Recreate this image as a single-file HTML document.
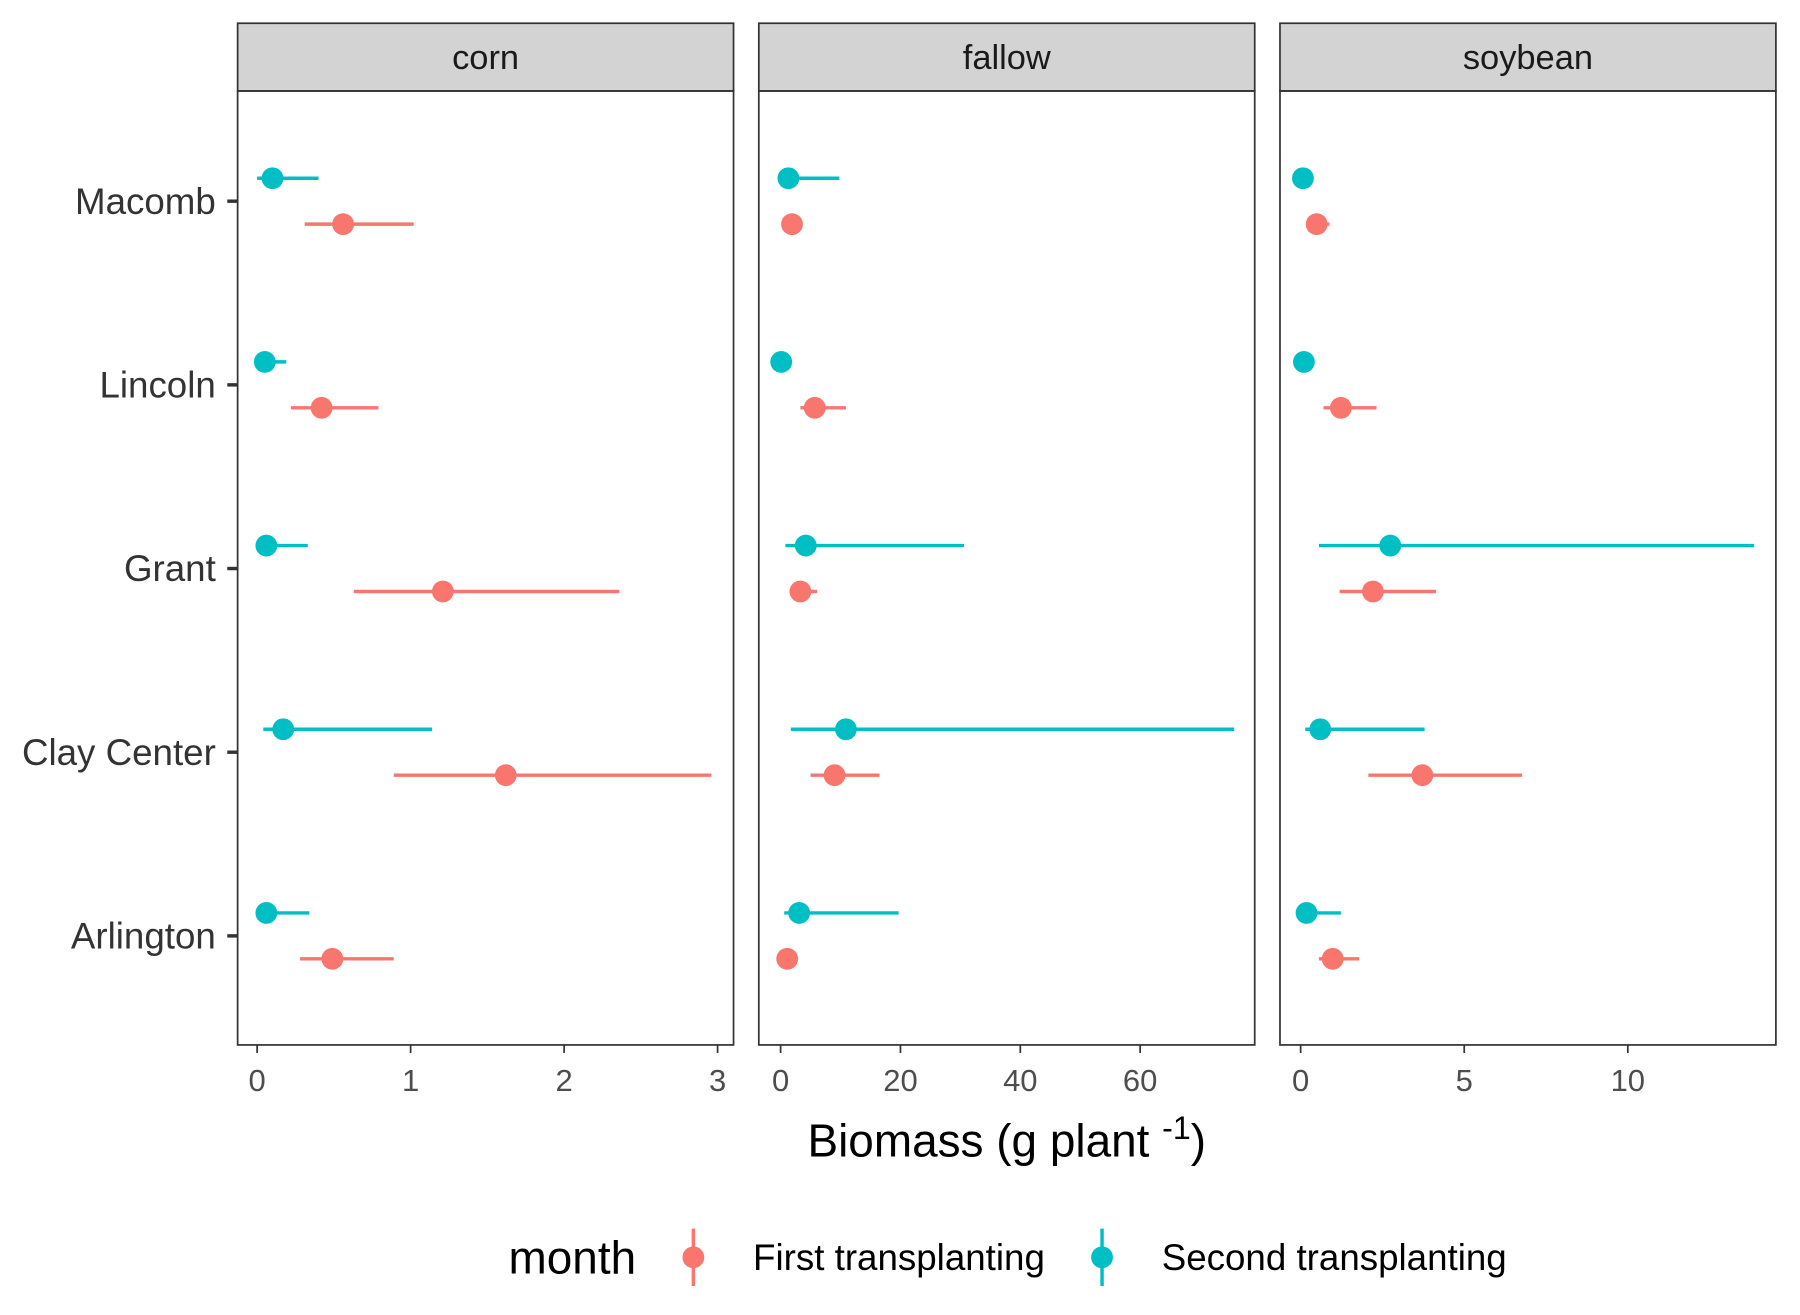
<!DOCTYPE html>
<html><head><meta charset="utf-8"><style>
html,body{margin:0;padding:0;background:#fff;}
svg{display:block;font-family:"Liberation Sans",sans-serif;}
</style></head><body>
<svg id="chart" width="1800" height="1315" viewBox="0 0 1568 1145" xmlns="http://www.w3.org/2000/svg">
<rect width="1568" height="1145" fill="#fff"/>
<g id="root"></g>
</svg>
<script>
const sites = ["Macomb","Lincoln","Grant","Clay Center","Arlington"];
const facets = ["corn","fallow","soybean"];
// [point, low, high] per site, per facet
const cornFirst = [[0.56,0.31,1.02],[0.42,0.22,0.79],[1.21,0.63,2.36],[1.62,0.89,2.96],[0.49,0.28,0.89]];
const cornSecond = [[0.10,0.0,0.40],[0.05,0.0,0.19],[0.06,0.0,0.33],[0.17,0.04,1.14],[0.06,0.0,0.34]];
const fallowFirst = [[1.9,1.5,2.3],[5.7,3.3,10.9],[3.3,2.0,6.1],[9.0,5.0,16.5],[1.1,0.8,1.5]];
const fallowSecond = [[1.3,0.0,9.8],[0.1,0.0,0.3],[4.2,0.8,30.6],[10.9,1.7,75.7],[3.1,0.6,19.7]];
const soyFirst = [[0.49,0.25,0.88],[1.23,0.70,2.32],[2.21,1.19,4.14],[3.72,2.07,6.77],[0.98,0.56,1.79]];
const soySecond = [[0.07,0.0,0.15],[0.10,0.02,0.20],[2.74,0.56,13.86],[0.60,0.14,3.79],[0.18,0.05,1.23]];
const cornTicks = [0,1,2,3];
const fallowTicks = [0,20,40,60];
const soyTicks = [0,5,10];

const NS="http://www.w3.org/2000/svg";
const root=document.getElementById('root');
function el(tag,attrs,parent,text){const e=document.createElementNS(NS,tag);for(const k in attrs)e.setAttribute(k,attrs[k]);if(text!==undefined)e.textContent=text;(parent||root).appendChild(e);return e;}

const panels=[
 {name:"corn",x0:207,x1:639,z:224,per:133.7,first:cornFirst,second:cornSecond,ticks:cornTicks},
 {name:"fallow",x0:661,x1:1093,z:680,per:5.22,first:fallowFirst,second:fallowSecond,ticks:fallowTicks},
 {name:"soybean",x0:1115,x1:1547,z:1133,per:28.5,first:soyFirst,second:soySecond,ticks:soyTicks}
];
const topY=79,botY=910;
function yPos(i){return 175+160*i;}
const RED="#f8766d",TEAL="#00bfc4";

panels.forEach(p=>{
  const g=el('g',{});
  
  
  const xs=v=>p.z+v*p.per;
  const strip=el('rect',{x:p.x0,y:20,width:p.x1-p.x0,height:59,fill:"#d3d3d3",stroke:"#333","stroke-width":1.5},g);
  
  
  const st=el('text',{x:(p.x0+p.x1)/2,y:60,"text-anchor":"middle","font-size":30,fill:"#1a1a1a"},g,p.name);
  
  
  el('rect',{x:p.x0,y:topY,width:p.x1-p.x0,height:botY-topY,fill:"none",stroke:"#333","stroke-width":1.5},g);
  p.ticks.forEach(t=>{
    el('line',{x1:xs(t),x2:xs(t),y1:botY,y2:botY+7,stroke:"#333","stroke-width":1.5},g);
    const tl=el('text',{x:xs(t),y:950,"text-anchor":"middle","font-size":27,fill:"#4d4d4d"},g,t);
    
    
  });
  [[p.second,TEAL,-20,'second'],[p.first,RED,20,'first']].forEach(([arr,col,off,nm])=>{
    arr.forEach((d,i)=>{
      const y=yPos(i)+off;
      const ln=el('line',{x1:xs(d[1]),x2:xs(d[2]),y1:y,y2:y,stroke:col,"stroke-width":3},g);
      
      
      const c=el('circle',{cx:xs(d[0]),cy:y,r:9.5,fill:col},g);
      
      
    });
  });
});
sites.forEach((s,i)=>{
  el('line',{x1:198,x2:207,y1:yPos(i),y2:yPos(i),stroke:"#333","stroke-width":3});
  const t=el('text',{x:188,y:yPos(i)+11,"text-anchor":"end","font-size":32,fill:"#333"},root,s);
  
  
});
const xt=el('text',{x:877,y:1007,"text-anchor":"middle","font-size":40,fill:"#000"});


xt.innerHTML='Biomass (g plant <tspan dy="-15" font-size="28">-1</tspan><tspan dy="15">)</tspan>';
const lg=el('g',{});


el('text',{x:443,y:1109,"font-size":40,fill:"#000"},lg,"month");
[[604,RED,"First transplanting",656],[960,TEAL,"Second transplanting",1012]].forEach(([x,c,lab,tx])=>{
  el('line',{x1:x,x2:x,y1:1070,y2:1120,stroke:c,"stroke-width":3},lg);
  el('circle',{cx:x,cy:1095,r:9.5,fill:c},lg);
  const t=el('text',{x:tx,y:1106,"font-size":32,fill:"#000"},lg,lab);
  
  
});
</script>
</body></html>
